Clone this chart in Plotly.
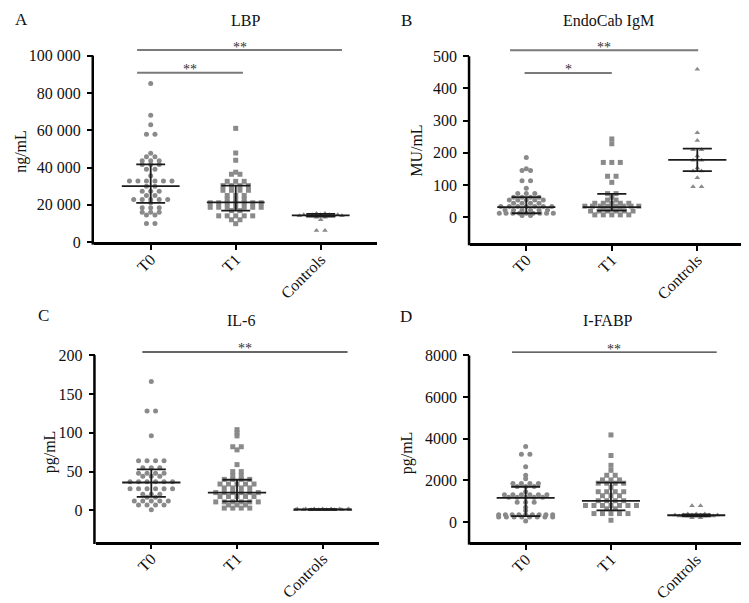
import plotly.graph_objects as go

W, H = 749, 603
FONT = "Liberation Serif, Times New Roman, DejaVu Serif, serif"

categories = ["T0", "T1", "Controls"]

# ---------------- Panel A: LBP (ng/mL) ----------------
lbp_t0 = [85000, 68000, 63000, 57800, 57800, 47700, 45800, 45800,
          43700, 43700, 43700, 41600, 41600, 41600, 39100, 39100, 35600,
          32800, 32800, 32800, 32800, 32800, 32800, 30000, 30000,
          27300, 27300, 27300, 25000, 25000,
          22900, 22900, 22900, 22900, 22900, 21100,
          18500, 18500, 18500, 16000, 16000, 16000, 14500, 14500,
          10000, 10000]
lbp_t1 = [61000, 47800, 43900, 37500, 36400, 36400,
          32600, 32600, 32600, 30300, 30300, 30300, 30300,
          27800, 27800, 27800, 27800, 25000, 25000, 25000,
          23000, 23000, 23000,
          21100, 21100, 21100, 21100, 21100, 21100, 21100,
          18700, 18700, 18700, 18700, 18700, 18700, 18700,
          16900, 16900, 14100, 14100, 14100, 14100, 14100,
          12000, 12000, 9900]
lbp_ctrl = [15400, 15400, 14700, 14700, 14700, 14700, 14700,
            14200, 14200, 14200, 14200, 14200, 14200,
            13400, 13400, 12000, 6200, 6200]
lbp_median = [30000, 21300, 14400]
lbp_q1 = [21100, 16900, 13700]
lbp_q3 = [41700, 30300, 15200]
lbp_ticks = [0, 20000, 40000, 60000, 80000, 100000]
lbp_ticktext = ["0", "20 000", "40 000", "60 000", "80 000", "100 000"]

# ---------------- Panel B: EndoCab IgM (MU/mL) ----------------
igm_t0 = [185, 150, 145, 145, 113, 113, 90, 73, 73, 73,
          62, 62, 62, 62, 53, 53, 53, 53, 53, 43, 43, 43, 43,
          33, 33, 33, 33, 33, 33, 33, 22, 22, 22, 22, 22, 22,
          12, 12, 12, 12, 12, 12, 12, 12, 12, 5, 5]
igm_t1 = [243, 228, 170, 170, 170, 127, 127, 108, 73, 73, 62, 53, 53,
          43, 43, 43, 43, 43, 34, 34, 34, 34, 34, 34, 34, 34,
          27, 27, 27, 19, 19, 19, 19, 19, 19, 7, 7, 7, 7, 7]
igm_ctrl = [460, 262, 238, 209, 209, 190, 177, 177, 153, 143, 143, 122, 94, 94]
igm_median = [31, 31, 178]
igm_q1 = [12, 20, 143]
igm_q3 = [62, 72, 213]
igm_ticks = [0, 100, 200, 300, 400, 500]
igm_ticktext = ["0", "100", "200", "300", "400", "500"]

# ---------------- Panel C: IL-6 (pg/mL) ----------------
il6_t0 = [166, 128, 128, 96, 64, 64, 64, 64, 55, 55, 55, 48, 48, 48, 48,
          44, 44, 44, 37, 37, 37, 37, 37, 37, 28, 28, 28, 28, 28, 28,
          21, 21, 21, 17, 17, 12, 12, 12, 12, 12, 7, 7, 7, 7, 1]
il6_t1 = [104, 100, 96, 82, 82, 78, 59, 50, 50, 45, 45, 40, 40, 40, 40,
          34, 34, 34, 34, 34, 29, 29, 29, 29, 23, 23, 23, 23, 23, 23,
          18, 18, 18, 18, 18, 11, 11, 11, 11, 11, 11, 7, 7, 7, 3, 3, 3, 3]
il6_ctrl = [2, 2, 2, 2, 2, 2, 2, 1, 1, 1, 1, 1, 1, 1, 1]
il6_median = [36, 23, 1.2]
il6_q1 = [17.4, 11.8, 0.8]
il6_q3 = [53, 39.5, 1.8]
il6_ticks = [0, 50, 100, 150, 200]
il6_ticktext = ["0", "50", "100", "150", "200"]

# ---------------- Panel D: I-FABP (pg/mL) ----------------
ifabp_t0 = [3630, 3250, 3250, 2650, 2240, 2080, 1850, 1850, 1850, 1850,
            1700, 1700, 1700, 1450, 1300, 1300, 1300, 1300, 1300, 1300,
            1180, 1180, 1180, 1180, 1180, 950, 950, 950, 710, 550,
            350, 350, 350, 350, 350, 350, 350, 350, 350,
            240, 240, 240, 240, 240, 240, 240, 240, 50]
ifabp_t1 = [4180, 3190, 2720, 2480, 2240, 2240, 2020, 2020, 2020,
            1860, 1860, 1860, 1860, 1660, 1450, 1450, 1450, 1450,
            1260, 1260, 1260, 1020, 1020, 1020, 1020,
            790, 790, 790, 790, 790, 790, 790, 630, 630,
            400, 400, 400, 400, 400, 80]
ifabp_ctrl = [780, 780, 380, 380, 380, 330, 330, 330, 330, 330, 330,
              280, 280, 280, 280, 280, 200, 200]
ifabp_median = [1160, 1010, 320]
ifabp_q1 = [280, 550, 270]
ifabp_q3 = [1690, 1890, 360]
ifabp_ticks = [0, 2000, 4000, 6000, 8000]
ifabp_ticktext = ["0", "2000", "4000", "6000", "8000"]

# significance comparisons: (from, to, height, label)
lbp_sig = [(-0.16, 2.25, 103000, "**"), (-0.16, 1.085, 90800, "**")]
igm_sig = [(-0.19, 2.01, 519, "**"), (-0.02, 1.0, 448, "*")]
il6_sig = [(-0.105, 2.29, 204, "**")]
ifabp_sig = [(-0.16, 2.24, 8160, "**")]

panels = [
    dict(letter="A", title="LBP", unit="ng/mL",
         groups=[lbp_t0, lbp_t1, lbp_ctrl], med=lbp_median, q1=lbp_q1, q3=lbp_q3,
         ticks=lbp_ticks, ticktext=lbp_ticktext, sig=lbp_sig,
         sigcolor="#7a7a7a", sigwidth=2,
         xpx=(86, 369), xr=(-0.667, 2.662), ypx=(237.7, 29.4), yr=(0, 110000), ytop=100000,
         letter_px=(14, 12), title_px=(237, 13), unit_px=(13, 146)),
    dict(letter="B", title="EndoCab IgM", unit="MU/mL",
         groups=[igm_t0, igm_t1, igm_ctrl], med=igm_median, q1=igm_q1, q3=igm_q3,
         ticks=igm_ticks, ticktext=igm_ticktext, sig=igm_sig,
         sigcolor="#7a7a7a", sigwidth=2,
         xpx=(462.3, 746), xr=(-0.655, 2.663), ypx=(238.4, 29.4), yr=(-80, 560), ytop=500,
         letter_px=(398, 13), title_px=(600, 13), unit_px=(409, 145)),
    dict(letter="C", title="IL-6", unit="pg/mL",
         groups=[il6_t0, il6_t1, il6_ctrl], med=il6_median, q1=il6_q1, q3=il6_q3,
         ticks=il6_ticks, ticktext=il6_ticktext, sig=il6_sig,
         sigcolor="#333333", sigwidth=1.3,
         xpx=(87.7, 371), xr=(-0.649, 2.657), ypx=(541.6, 335), yr=(-40, 222), ytop=200,
         letter_px=(35, 312), title_px=(233, 317), unit_px=(42, 451)),
    dict(letter="D", title="I-FABP", unit="pg/mL",
         groups=[ifabp_t0, ifabp_t1, ifabp_ctrl], med=ifabp_median, q1=ifabp_q1, q3=ifabp_q3,
         ticks=ifabp_ticks, ticktext=ifabp_ticktext, sig=ifabp_sig,
         sigcolor="#333333", sigwidth=1.3,
         xpx=(462.3, 745), xr=(-0.649, 2.665), ypx=(542.3, 335), yr=(-975, 8838), ytop=8000,
         letter_px=(398, 313), title_px=(600, 317), unit_px=(399, 451)),
]

symbols = ["circle", "square", "triangle-up"]
MARKER_COLOR = "#8a8a8a"
SPACING_PX = 8.5
MAX_HALF_PX = 27
MED_HALF = 0.34
CAP_HALF = 0.17


def swarm_offsets(values, px_per_x):
    rows = {}
    for i, v in enumerate(values):
        rows.setdefault(v, []).append(i)
    off = [0.0] * len(values)
    for v, idx in rows.items():
        n = len(idx)
        sp = SPACING_PX if n < 2 else min(SPACING_PX, 2 * MAX_HALF_PX / (n - 1))
        for k, i in enumerate(idx):
            off[i] = (k - (n - 1) / 2) * sp / px_per_x
    return off


fig = go.Figure()
layout = dict(width=W, height=H, margin=dict(l=0, r=0, t=0, b=0),
              paper_bgcolor="white", plot_bgcolor="white", showlegend=False,
              font=dict(family=FONT, size=16, color="#111111"))
shapes = []
annotations = []

for n, p in enumerate(panels, start=1):
    sfx = "" if n == 1 else str(n)
    xref, yref = "x" + sfx, "y" + sfx
    xd = [p["xpx"][0] / W, p["xpx"][1] / W]
    yd = [1 - p["ypx"][0] / H, 1 - p["ypx"][1] / H]
    px_per_x = (p["xpx"][1] - p["xpx"][0]) / (p["xr"][1] - p["xr"][0])

    for gi, vals in enumerate(p["groups"]):
        off = swarm_offsets(vals, px_per_x)
        fig.add_trace(go.Scatter(
            x=[gi + o for o in off], y=vals, mode="markers",
            marker=dict(symbol=symbols[gi], size=5, color=MARKER_COLOR, line=dict(width=0)),
            xaxis=xref, yaxis=yref, cliponaxis=False, hoverinfo="y"))

    # median + interquartile range
    lx, ly = [], []
    for gi in range(3):
        m, a, b = p["med"][gi], p["q1"][gi], p["q3"][gi]
        lx += [gi - MED_HALF, gi + MED_HALF, None, gi, gi, None,
               gi - CAP_HALF, gi + CAP_HALF, None, gi - CAP_HALF, gi + CAP_HALF, None]
        ly += [m, m, None, a, b, None, a, a, None, b, b, None]
    fig.add_trace(go.Scatter(x=lx, y=ly, mode="lines",
                             line=dict(color="#1a1a1a", width=1.8),
                             xaxis=xref, yaxis=yref, hoverinfo="skip"))

    layout["xaxis" + sfx] = dict(
        domain=xd, range=list(p["xr"]), anchor=yref,
        showline=True, linewidth=2.5, linecolor="black",
        ticks="outside", ticklen=5, tickwidth=2, tickcolor="black",
        tickvals=[0, 1, 2], ticktext=categories, tickangle=-45,
        ticklabelstandoff=-6,
        tickfont=dict(family=FONT, size=16, color="#111111"),
        showgrid=False, zeroline=False, fixedrange=True)
    layout["yaxis" + sfx] = dict(
        domain=yd, range=list(p["yr"]), anchor=xref,
        showline=False, ticks="outside", ticklen=6, tickwidth=2, tickcolor="black",
        tickvals=p["ticks"], ticktext=p["ticktext"], ticklabelstandoff=3,
        tickfont=dict(family=FONT, size=16, color="#111111"),
        showgrid=False, zeroline=False, fixedrange=True)

    # y axis line ending at the top tick
    ytop_frac = yd[0] + (p["ytop"] - p["yr"][0]) / (p["yr"][1] - p["yr"][0]) * (yd[1] - yd[0])
    shapes.append(dict(type="line", xref="paper", yref="paper",
                       x0=xd[0] - 1.25 / W, x1=xd[0] - 1.25 / W,
                       y0=yd[0] - 2.5 / H, y1=ytop_frac,
                       line=dict(color="black", width=2.5)))

    # significance bars
    for (a, b, yv, lab) in p["sig"]:
        shapes.append(dict(type="line", xref=xref, yref=yref, x0=a, x1=b, y0=yv, y1=yv,
                           line=dict(color=p["sigcolor"], width=p["sigwidth"])))
        annotations.append(dict(xref=xref, yref=yref, x=(a + b) / 2, y=yv, text=lab,
                                showarrow=False, yanchor="middle", yshift=3,
                                font=dict(family=FONT, size=14, color="#333333")))

    annotations.append(dict(xref="paper", yref="paper", x=p["letter_px"][0] / W,
                            y=1 - p["letter_px"][1] / H, text=p["letter"], showarrow=False,
                            xanchor="center", yanchor="middle",
                            font=dict(family=FONT, size=17, color="#111111")))
    annotations.append(dict(xref="paper", yref="paper", x=p["title_px"][0] / W,
                            y=1 - p["title_px"][1] / H, text=p["title"], showarrow=False,
                            xanchor="center", yanchor="middle",
                            font=dict(family=FONT, size=16, color="#111111")))
    annotations.append(dict(xref="paper", yref="paper", x=p["unit_px"][0] / W,
                            y=1 - p["unit_px"][1] / H, text=p["unit"], showarrow=False,
                            xanchor="center", yanchor="middle", textangle=-90,
                            font=dict(family=FONT, size=16, color="#111111")))

layout["shapes"] = shapes
layout["annotations"] = annotations
fig.update_layout(**layout)
fig.write_html("out.html")
